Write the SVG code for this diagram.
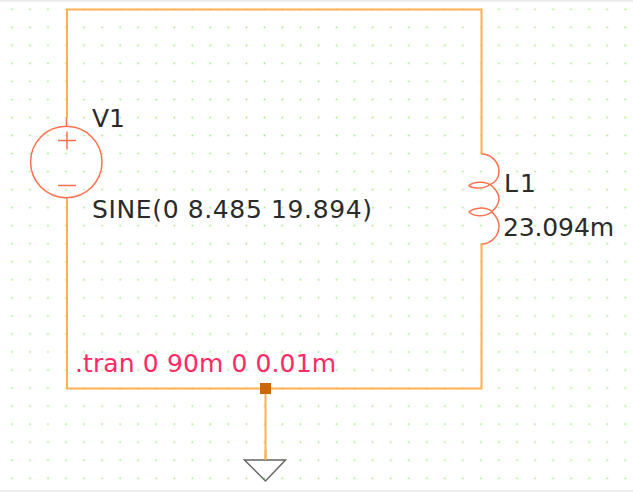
<svg xmlns="http://www.w3.org/2000/svg" width="633" height="492" viewBox="0 0 633 492">
<style>
.wire{fill:none;stroke:#ffb050;stroke-width:2}
.sym{fill:none;stroke:#ff7050;stroke-width:1.500}
text{font-family:"DejaVu Sans",sans-serif;font-size:25px;fill:#2a2a2a}
</style>
<defs>
<pattern id="grid" x="2.900" y="0.200" width="18.040" height="18.040" patternUnits="userSpaceOnUse">
<rect x="8.200" y="8.200" width="1.600" height="1.600" fill="#98ec78"/>
</pattern>
</defs>
<rect width="633" height="492" fill="#fff"/>
<rect width="633" height="490" fill="url(#grid)"/>
<rect width="633" height="1.500" fill="#e8e8e8"/>
<rect y="490" width="633" height="2" fill="#eeeeee"/>
<g id="connectors">
<path class="wire" d="M67 118V9.500H481.500V154M481.500 244V388.500H67V199"/>
<path class="wire" d="M265.500 388.500V460"/>
</g>
<g id="V1">
<path class="sym" d="M66.500 118V127M66.500 197V199"/>
<circle class="sym" cx="66.300" cy="162" r="35.700"/>
<path class="sym" d="M58 140.500H76M67 131.500V149.500M58 185.500H76"/>
<text x="92" y="127" textLength="33">V1</text>
<text x="92" y="218" textLength="280">SINE(0 8.485 19.894)</text>
</g>
<g id="L1">
<path class="sym" d="M481.500 154C491 154 499 162 499 171C499 178 495 183 490 184.500C483 190 471 188 469 185.500C473 182 486 180 493 187C497 191 499 195 499 199C499 203 497 207 492 211.500C485 206 473 208 469 212C473 216 483 218 492 212C497 217 499 222 499 226C499 236 491 244 481.500 244"/>
<text x="504" y="192" textLength="32">L1</text>
<text x="503" y="236" textLength="111">23.094m</text>
</g>
<g id="directive">
<text x="75" y="372" textLength="261" style="fill:#ff2a66">.tran 0 90m 0 0.01m</text>
</g>
<g id="junction">
<rect x="260" y="383" width="11" height="11" fill="#cc6600"/>
</g>
<g id="ground">
<path d="M244.500 460H285.500L265.500 481Z" fill="none" stroke="#666" stroke-width="1.500"/>
<path class="wire" d="M265.500 450V460"/>
</g>
</svg>
